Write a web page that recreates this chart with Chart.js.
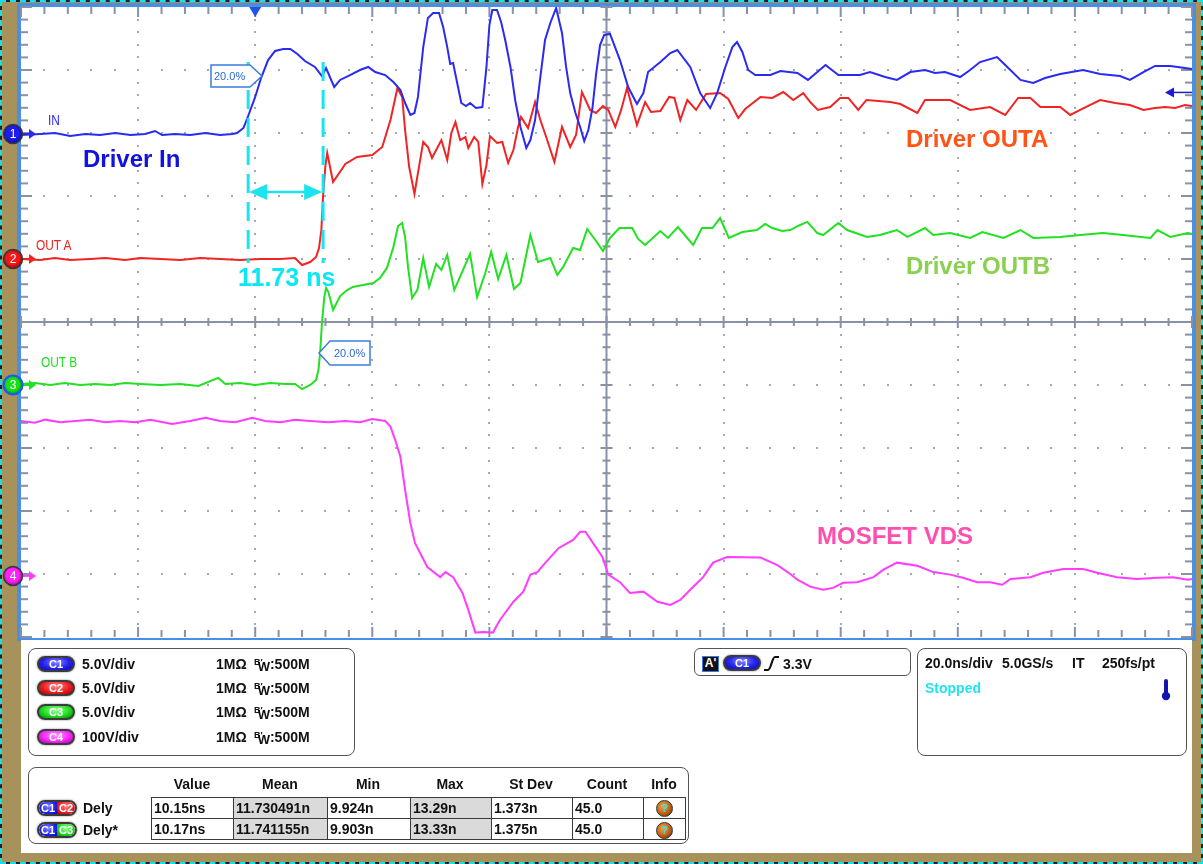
<!DOCTYPE html>
<html><head><meta charset="utf-8">
<script src="https://cdn.jsdelivr.net/npm/chart.js@4.4.1/dist/chart.umd.min.js"></script>
<style>
html,body{margin:0;padding:0;}
body{width:1203px;height:864px;position:relative;overflow:hidden;font-family:"Liberation Sans",Arial,sans-serif;}
#outer{position:absolute;left:0;top:0;width:1203px;height:864px;box-sizing:border-box;border:2px dashed #18dfe8;background:#222;}
#tan{position:absolute;left:2px;top:2px;width:1199px;height:860px;background:#a8925c;}
#plotframe{position:absolute;left:17px;top:3px;width:1179px;height:638px;box-sizing:border-box;border-style:solid;border-color:#4a8fe3;border-width:4px 4px 3px 4px;background:#fff;}
#panel{position:absolute;left:21px;top:640px;width:1171px;height:213px;background:#fff;}
canvas{position:absolute;left:0;top:0;z-index:2;}
.t{position:absolute;white-space:nowrap;line-height:1;z-index:4;}
.b{font-weight:bold;}
.p14{font-size:14px;font-weight:bold;color:#111;}
.box{position:absolute;box-sizing:border-box;border:1.5px solid #555;border-radius:8px;z-index:3;}
.pill{position:absolute;box-sizing:border-box;height:16px;border-radius:8px;border:2px solid #3b3b3b;color:#fff;font:bold 11px/12px "Liberation Sans",Arial,sans-serif;text-align:center;z-index:4;box-shadow:0 0 2px #777;}
.pb{background:radial-gradient(ellipse 70% 90% at 50% 35%,#8a8aff 0%,#2424f0 55%,#0a0aa8 100%);}
.pr{background:radial-gradient(ellipse 70% 90% at 50% 35%,#ff9090 0%,#f02020 55%,#a00000 100%);}
.pg{background:radial-gradient(ellipse 70% 90% at 50% 35%,#a0ffa0 0%,#20e020 55%,#008a00 100%);}
.pm{background:radial-gradient(ellipse 70% 90% at 50% 35%,#ff9cff 0%,#ff28ff 55%,#a000a0 100%);}
.half{display:inline-block;width:50%;height:100%;}
.info{position:absolute;box-sizing:border-box;width:17px;height:17px;border-radius:50%;background:radial-gradient(circle at 40% 35%,#f5a548,#b85a10 60%,#5a2800);border:1px solid #333;color:#38e8f2;font:bold 11px/15px "Liberation Sans",Arial,sans-serif;text-align:center;z-index:5;}
.mk{position:absolute;left:7px;width:12px;text-align:center;color:#fff;font:12px/14px "Liberation Sans",Arial,sans-serif;z-index:5;}
table.meas{position:absolute;left:151px;top:797px;width:534px;border-collapse:collapse;table-layout:fixed;z-index:4;}
table.meas td{border:1.5px solid #3a3a3a;height:20px;padding:0 0 0 2px;font:bold 14px/20px "Liberation Sans",Arial,sans-serif;color:#111;white-space:nowrap;overflow:hidden;}
table.meas td.g{background:#dadada;}
.hd{position:absolute;top:777px;width:90px;text-align:center;font-size:14px;font-weight:bold;color:#111;line-height:1;z-index:4;}
.narrow{transform:scaleX(.85);transform-origin:left top;font-size:14px;}
</style></head>
<body>
<div id="outer"></div>
<div id="tan"></div>
<div id="plotframe"></div>
<div id="panel"></div>
<canvas id="scope" width="1203" height="864"></canvas>

<!-- waveform labels -->
<div class="t narrow" style="left:48px;top:113px;color:#2b2bee;">IN</div>
<div class="t narrow" style="left:36px;top:238px;color:#ee2222;">OUT A</div>
<div class="t narrow" style="left:41px;top:355px;color:#22dd22;">OUT B</div>
<div class="t b" style="left:83px;top:147px;font-size:24px;color:#1212dd;">Driver In</div>
<div class="t b" style="left:906px;top:127px;font-size:24px;color:#ff5418;">Driver OUTA</div>
<div class="t b" style="left:906px;top:254px;font-size:24px;color:#8bd050;">Driver OUTB</div>
<div class="t b" style="left:817px;top:524px;font-size:24px;color:#ff4fae;">MOSFET VDS</div>
<div class="t b" id="cursorText" style="left:238px;top:265px;font-size:25px;color:#0ae8f4;"></div>
<div class="t" style="left:214px;top:71px;font-size:11px;color:#2a68d8;">20.0%</div>
<div class="t" style="left:334px;top:348px;font-size:11px;color:#2a68d8;">20.0%</div>

<!-- channel setup box -->
<div class="box" style="left:28px;top:648px;width:327px;height:108px;"></div>
<div class="pill pb" style="left:37px;top:656px;width:38px;">C1</div>
<div class="pill pr" style="left:37px;top:680px;width:38px;">C2</div>
<div class="pill pg" style="left:37px;top:704px;width:38px;">C3</div>
<div class="pill pm" style="left:37px;top:729px;width:38px;">C4</div>
<div class="t p14" style="left:82px;top:657px;">5.0V/div</div>
<div class="t p14" style="left:82px;top:681px;">5.0V/div</div>
<div class="t p14" style="left:82px;top:705px;">5.0V/div</div>
<div class="t p14" style="left:82px;top:730px;">100V/div</div>
<div class="t p14" style="left:216px;top:657px;">1MΩ</div>
<div class="t p14" style="left:216px;top:681px;">1MΩ</div>
<div class="t p14" style="left:216px;top:705px;">1MΩ</div>
<div class="t p14" style="left:216px;top:730px;">1MΩ</div>
<div class="t p14" style="left:254px;top:657px;"><span style="font-size:9px;position:relative;top:-4px;">B′</span><span style="font-size:13px;position:relative;top:2px;margin-left:-5px;">W</span>:500M</div>
<div class="t p14" style="left:254px;top:681px;"><span style="font-size:9px;position:relative;top:-4px;">B′</span><span style="font-size:13px;position:relative;top:2px;margin-left:-5px;">W</span>:500M</div>
<div class="t p14" style="left:254px;top:705px;"><span style="font-size:9px;position:relative;top:-4px;">B′</span><span style="font-size:13px;position:relative;top:2px;margin-left:-5px;">W</span>:500M</div>
<div class="t p14" style="left:254px;top:730px;"><span style="font-size:9px;position:relative;top:-4px;">B′</span><span style="font-size:13px;position:relative;top:2px;margin-left:-5px;">W</span>:500M</div>

<!-- trigger box -->
<div class="box" style="left:694px;top:648px;width:217px;height:28px;border-radius:6px;"></div>
<div class="t" style="left:702px;top:656px;width:17px;height:16px;box-sizing:border-box;background:#111;border:1.5px solid #3a7be0;color:#fff;font:bold 12px/13px 'Liberation Sans',Arial,sans-serif;text-align:center;">A'</div>
<div class="pill pb" style="left:723px;top:655px;width:38px;">C1</div>
<svg style="position:absolute;left:762px;top:654px;z-index:4" width="20" height="20"><path d="M2,16 L6,16 C9,16 10,3 13,3 L17,3" fill="none" stroke="#111" stroke-width="2.2"/></svg>
<div class="t p14" style="left:783px;top:657px;">3.3V</div>

<!-- timebase box -->
<div class="box" style="left:917px;top:648px;width:270px;height:108px;"></div>
<div class="t p14" style="left:925px;top:656px;">20.0ns/div</div>
<div class="t p14" style="left:1002px;top:656px;">5.0GS/s</div>
<div class="t p14" style="left:1072px;top:656px;">IT</div>
<div class="t p14" style="left:1102px;top:656px;">250fs/pt</div>
<div class="t b" style="left:925px;top:681px;font-size:14px;color:#22e3f2;">Stopped</div>
<svg style="position:absolute;left:1159px;top:678px;z-index:4" width="14" height="24"><rect x="5" y="1" width="4" height="16" rx="2" fill="#1414b0"/><circle cx="7" cy="18" r="4.2" fill="#1414b0"/></svg>

<!-- measurement table -->
<div class="box" style="left:28px;top:767px;width:661px;height:77px;"></div>
<div class="hd" style="left:147px;">Value</div>
<div class="hd" style="left:235px;">Mean</div>
<div class="hd" style="left:323px;">Min</div>
<div class="hd" style="left:405px;">Max</div>
<div class="hd" style="left:486px;">St Dev</div>
<div class="hd" style="left:562px;">Count</div>
<div class="hd" style="left:619px;">Info</div>
<div class="pill" style="left:37px;top:800px;width:40px;padding:0;overflow:hidden;"><span class="half pb" style="border-radius:7px 0 0 7px;">C1</span><span class="half pr" style="border-radius:0 7px 7px 0;">C2</span></div>
<div class="pill" style="left:37px;top:822px;width:40px;padding:0;overflow:hidden;"><span class="half pb" style="border-radius:7px 0 0 7px;">C1</span><span class="half pg" style="border-radius:0 7px 7px 0;">C3</span></div>
<div class="t p14" style="left:83px;top:801px;">Dely</div>
<div class="t p14" style="left:83px;top:823px;">Dely*</div>
<table class="meas">
<colgroup><col style="width:82px"><col style="width:94px"><col style="width:83px"><col style="width:81px"><col style="width:81px"><col style="width:71px"><col style="width:42px"></colgroup>
<tr><td>10.15ns</td><td class="g">11.730491n</td><td>9.924n</td><td class="g">13.29n</td><td>1.373n</td><td>45.0</td><td></td></tr>
<tr><td>10.17ns</td><td class="g">11.741155n</td><td>9.903n</td><td class="g">13.33n</td><td>1.375n</td><td>45.0</td><td></td></tr>
</table>
<div class="info" style="left:656px;top:800px;">?</div>
<div class="info" style="left:656px;top:822px;">?</div>

<script>
// ---------------- data (time in ns, voltages in V) ----------------
const timeRange = [-40, 160];          // 20 ns/div, 10 divisions
const cursorTimes = [-1.2, 11.6];      // delay cursors
const cursorLabel = '11.73 ns';
const triggerTime = 0;
const triggerLevel = 3.3;              // V on C1
const channelNames = ['C1', 'C2', 'C3', 'C4'];
const channelColors = ['#2a2af0', '#f02424', '#22e022', '#ff3cff'];

const ch1Time = [
 -40,-36.7,-34.2,-31.6,-29,-26.5,-23.9,-21.3,-18.8,-17.1,
 -15.9,-13.7,-11.1,-8.5,-6,-3.9,-3.1,-2,-1.2,0,
 1,2.2,3.4,4.8,6,7.2,8.5,10.2,11.4,12.1,
 13.5,14.5,16.2,17.9,19.3,20.5,22.2,23.6,24.8,25.6,
 26.5,27.2,27.8,28.7,29.5,30.4,31.4,32.1,32.8,33.3,
 33.8,34.5,35.2,36,36.7,37.7,38.8,39.5,40,40.5,
 41.3,42,42.7,43.6,44.4,45.3,46.3,47,47.8,48.7,
 49.5,50.4,51.4,52.4,53.1,53.8,54.7,55.5,56.2,56.9,
 57.6,58.2,58.9,59.6,60.6,62.3,63.7,65.2,66.3,67.1,
 69.2,70.9,72.1,74.3,76,77.7,78.9,80.3,81.5,82.3,
 83.2,84.2,85.4,88,89.7,92.6,94.4,97.4,99.6,103.3,
 105,107.6,109.6,111.9,114.4,116.1,117.8,120.4,122.1,123.8,
 126.7,128.1,130.7,132.9,134.9,137.5,141.4,144.3,147.7,149.4,
 151.7,153.7,156.3,158.8,160
];
const ch1Volts = [
 -0.08,0,0.08,-0.16,0,-0.08,0.08,-0.08,0,0.24,
 -0.08,0,-0.08,0.08,-0.08,0,0.08,0.48,1.43,2.94,
 4.44,5.87,6.59,6.75,6.75,6.35,5.79,5.32,4.60,5.24,
 3.73,4.29,4.68,5.08,5.32,4.92,4.68,4.13,3.49,2.46,
 1.51,1.67,2.94,6.90,9.21,9.60,9.60,8.49,6.90,5.56,
 5.63,4.05,2.46,2.22,2.46,2.06,2.14,5.32,8.65,9.84,
 9.84,8.89,7.46,5.32,2.70,0.56,-1.11,-0.48,1.11,4.52,
 7.46,8.81,10.0,8.02,5.32,3.25,1.67,0.56,-0.56,0.32,
 2.06,4.68,7.06,7.86,7.94,5.87,3.73,2.38,3.25,4.92,
 5.71,6.43,6.67,5.32,3.25,2.06,3.25,5.32,6.90,7.30,
 6.51,5.08,4.68,4.68,5.0,4.84,4.29,5.48,4.68,4.68,
 4.92,4.52,4.29,4.92,5.08,4.84,4.92,4.52,5.08,5.71,
 6.11,5.48,4.29,4.05,4.44,4.76,5.08,4.76,4.60,4.29,
 4.92,5.40,5.40,5.24,5.16
];

const ch2Time = [
 -40,-36.7,-34.2,-31.6,-28.2,-25.6,-22.2,-19.6,-16.2,-12.8,
 -9.4,-6,-2.6,0.9,4.3,6.8,8,9.4,10.4,10.9,
 11.3,11.6,12,12.3,13.3,15.4,17.4,20,21.7,23.1,
 24.3,25.1,25.6,26.3,27.2,27.8,28.7,29.5,30.2,31.8,
 32.8,33.5,34.2,35,35.9,36.4,37.4,38.1,38.8,39.5,
 40.1,41.3,42.2,43.2,44.1,44.9,45.4,46.6,47.8,48.7,
 49.7,51.1,52.4,53.8,54.8,55.8,57.2,58.2,59.4,60.3,
 61.5,62.5,63.5,65.2,66.6,67.6,69.2,70.7,71.6,72.6,
 73.8,75.3,77,79.4,80.8,82.5,83.7,86.3,88.3,90.2,
 91.9,93.6,94.8,96.1,98.2,99.9,101.3,103,104.4,108.5,
 110.2,113.1,114.4,118.7,122.1,125.5,128.1,130.3,132.4,134.1,
 137.5,139.2,140.9,144.3,146.9,149.4,151.7,153.7,155.4,157.1,
 158.8,160
];
const ch2Volts = [
 0,-0.08,0.08,-0.08,0,0.08,-0.08,0.08,0,-0.08,
 0.08,0,-0.08,0,0,0.08,-0.48,-0.24,0.16,0.87,
 2.30,5.08,7.46,8.41,6.11,7.54,8.10,8.25,8.89,11.03,
 13.57,12.86,10.24,7.30,5.16,6.83,9.29,8.89,8.02,9.44,
 7.86,10.0,10.87,9.44,9.68,8.81,9.68,9.29,5.95,7.46,
 9.76,9.21,9.29,7.62,8.65,10.48,11.27,10.40,12.46,11.03,
 9.68,7.70,10.48,8.89,9.84,13.25,11.83,11.59,12.14,11.83,
 10.48,11.83,13.57,10.63,12.46,11.67,11.75,12.86,12.78,11.03,
 12.62,11.83,13.10,13.17,12.70,11.19,11.90,12.86,12.78,13.25,
 12.62,13.17,12.46,11.83,12.06,12.78,12.78,11.83,12.62,12.46,
 12.30,11.59,12.62,12.62,11.83,12.06,11.43,12.78,12.78,12.06,
 12.06,11.43,11.83,12.62,12.38,12.22,11.83,11.98,12.06,11.98,
 12.22,12.14
];

const ch3Time = [
 -40,-37.6,-35,-32.5,-29.9,-27.3,-24.8,-22.2,-19.6,-16.2,
 -12.8,-9.7,-6.3,-5.1,-2.6,0,2.6,5.1,6.8,8,
 9.4,10.4,10.8,11.1,11.4,11.8,12.1,12.5,13.3,14.5,
 15.7,16.7,18.4,20.2,21.3,22.5,23.6,24.4,25.1,25.6,
 26.1,26.8,27.7,28.7,29.7,30.9,31.8,32.8,34,36.7,
 37.9,39.3,40.3,41.5,42.9,44.2,45.3,47,48.3,50.4,
 51.6,52.6,54.3,55.5,56.7,58.1,59.4,60.6,62.2,64.4,
 65.4,66.6,69.2,70.5,72.2,74.8,76.3,78.1,79.4,80.9,
 83.2,85.7,87.1,88.3,90,91.4,92.7,94.3,96,97,
 99.6,101.1,104.5,106.7,109.6,111.4,114.4,115.8,118.7,122.1,
 124.2,127.8,130.7,132.9,137.5,140.9,144.8,148.2,152.9,154.1,
 156.3,159.3,160
];
const ch3Volts = [
 0.08,0.16,0,0.16,0,0.08,0,0.16,0.08,0,
 0.08,-0.08,0.56,0.08,0.16,0,0.16,0.08,0.08,-0.32,
 0,0.40,1.19,2.62,4.92,6.98,7.70,7.38,5.95,7.06,
 7.54,7.78,7.94,8.10,8.49,9.29,10.95,12.62,12.86,11.75,
 9.37,6.90,7.54,10.08,7.78,9.60,9.13,10.32,7.54,10.40,
 6.98,8.89,10.56,8.41,10.32,7.62,8.10,11.90,9.76,10.08,
 8.73,9.37,10.87,10.71,12.38,11.51,10.63,11.67,12.46,12.46,
 11.59,11.11,12.22,11.67,12.54,11.11,12.46,12.46,13.25,11.67,
 12.14,12.30,12.78,12.46,12.22,12.30,12.62,12.94,12.06,11.90,
 12.86,12.30,11.75,11.90,12.30,11.75,12.46,11.90,12.06,11.67,
 12.14,11.67,12.30,11.67,11.75,11.90,12.06,11.90,11.67,12.30,
 11.75,12.06,11.98
];

const ch4Time = [
 -40,-37.6,-35.9,-33.3,-30.7,-28.2,-25.6,-23.1,-20.5,-17.9,
 -14.2,-11.1,-8.5,-6,-3.4,-0.5,1.7,4.3,6.8,9.4,
 12.5,15.4,17.9,20,22.2,23.1,23.9,24.8,25.6,26.5,
 27.3,29.4,31.6,32.5,33.8,35.4,36.4,37.6,38.9,40.6,
 41.8,44.1,45.8,47,48.2,49.2,51.8,54.3,55.5,56.4,
 57.7,59.3,60.3,62.3,64,66.3,68.7,70.9,72.6,74.3,
 76.5,78.2,80.6,86.3,89.2,91.4,92.6,94.8,97,98.7,
 100.4,102.8,105.6,107.3,109.6,113.1,115.8,118.7,120.9,123.3,
 125.5,127.6,129,132.4,134.6,138,141.4,143.8,147.2,150.6,
 154.1,156.8,159.3,160
];
const ch4Volts = [
 246,243,248,244,246,248,244,246,244,248,
 241,246,251,246,244,251,246,244,248,246,
 244,246,244,249,246,237,216,189,137,84,
 52,14,-2,6,-2,-27,-54,-90,-89,-90,
 -70,-41,-25,2,6,17,44,57,70,70,
 52,30,2,-10,-27,-25,-41,-46,-38,-22,
 -2,21,30,29,17,3,-6,-17,-22,-19,
 -11,-10,-2,10,21,16,6,2,-3,-10,
 -10,-14,-5,-2,5,11,11,5,-2,-5,
 -3,-2,-6,-5
];

// vertical settings: volts/div and ground position (divisions from top of screen)
const voltsPerDiv = [5, 5, 5, 100];
const groundDiv = [2.016, 4.0, 6.0, 9.03];

// ---------------- chart ----------------
function series(t, v) { return t.map((x, i) => ({ x: x, y: v[i] })); }
const times = [ch1Time, ch2Time, ch3Time, ch4Time];
const volts = [ch1Volts, ch2Volts, ch3Volts, ch4Volts];

const yScales = {};
channelNames.forEach((n, i) => {
  yScales['y' + (i + 1)] = {
    type: 'linear', display: false,
    max: groundDiv[i] * voltsPerDiv[i],
    min: -(10 - groundDiv[i]) * voltsPerDiv[i]
  };
});

function tri(ctx, a, b, c) {
  ctx.beginPath(); ctx.moveTo(a[0], a[1]); ctx.lineTo(b[0], b[1]); ctx.lineTo(c[0], c[1]); ctx.closePath(); ctx.fill();
}
function seg(ctx, x1, y1, x2, y2) { ctx.beginPath(); ctx.moveTo(x1, y1); ctx.lineTo(x2, y2); ctx.stroke(); }

const scopeGrid = {
  id: 'scopeGrid',
  beforeDatasetsDraw(chart) {
    const { ctx, chartArea: a } = chart;
    const n = 10, sub = 5;
    const dx = (a.right - a.left) / n, dy = (a.bottom - a.top) / n;
    const cx = a.left + dx * 5, cy = a.top + dy * 5;
    ctx.save();
    ctx.fillStyle = '#a2a9b9';
    for (let i = 1; i < n; i++) {
      if (i === 5) continue;
      const gx = a.left + i * dx;
      for (let j = 1; j < n * sub; j++) { const gy = a.top + j * dy / sub; ctx.fillRect(Math.round(gx) - 1, Math.round(gy) - 1, 2, 2); }
    }
    for (let j = 1; j < n; j++) {
      if (j === 5) continue;
      const gy = a.top + j * dy;
      for (let i = 1; i < n * sub; i++) { const gx = a.left + i * dx / sub; ctx.fillRect(Math.round(gx) - 1, Math.round(gy) - 1, 2, 2); }
    }
    ctx.strokeStyle = '#8891a6'; ctx.lineWidth = 2;
    seg(ctx, cx, a.top, cx, a.bottom); seg(ctx, a.left, cy, a.right, cy);
    for (let j = 0; j <= n * sub; j++) {
      const gy = a.top + j * dy / sub, major = j % sub === 0, L = major ? 6 : 4;
      seg(ctx, cx - L, gy, cx + L, gy);
      const E = major ? 11 : 7;
      seg(ctx, a.left, gy, a.left + E, gy);
      seg(ctx, a.right - E, gy, a.right, gy);
    }
    for (let i = 0; i <= n * sub; i++) {
      const gx = a.left + i * dx / sub, major = i % sub === 0, L = major ? 6 : 4;
      seg(ctx, gx, cy - L, gx, cy + L);
      const E = major ? 10 : 7;
      seg(ctx, gx, a.top, gx, a.top + E);
      seg(ctx, gx, a.bottom - E, gx, a.bottom);
    }
    ctx.restore();
  }
};

const scopeOverlay = {
  id: 'scopeOverlay',
  afterDatasetsDraw(chart) {
    const { ctx, chartArea: a, scales } = chart;
    const x = scales.x;
    ctx.save();
    // delay cursors
    const cxs = cursorTimes.map(t => x.getPixelForValue(t));
    ctx.strokeStyle = '#19e4ef'; ctx.fillStyle = '#19e4ef';
    ctx.lineWidth = 3; ctx.setLineDash([19, 9]);
    cxs.forEach(px => seg(ctx, px, a.top + 55, px, a.top + 256));
    ctx.setLineDash([]);
    const ay = a.top + 185;
    ctx.lineWidth = 2.5;
    seg(ctx, cxs[0] + 12, ay, cxs[1] - 12, ay);
    tri(ctx, [cxs[0] + 1, ay], [cxs[0] + 19, ay - 8], [cxs[0] + 19, ay + 8]);
    tri(ctx, [cxs[1] - 1, ay], [cxs[1] - 19, ay - 8], [cxs[1] - 19, ay + 8]);
    // 20% callouts
    ctx.strokeStyle = '#3a7de0'; ctx.fillStyle = '#fff'; ctx.lineWidth = 1.5;
    ctx.beginPath();
    ctx.moveTo(211, 65); ctx.lineTo(250, 65); ctx.lineTo(262, 76); ctx.lineTo(250, 87); ctx.lineTo(211, 87); ctx.closePath();
    ctx.fill(); ctx.stroke();
    ctx.beginPath();
    ctx.moveTo(370, 341); ctx.lineTo(330, 341); ctx.lineTo(319, 353); ctx.lineTo(330, 365); ctx.lineTo(370, 365); ctx.closePath();
    ctx.fill(); ctx.stroke();
    // trigger position marker
    const tx = x.getPixelForValue(triggerTime);
    ctx.fillStyle = '#2356e0';
    tri(ctx, [tx - 6, a.top], [tx + 6, a.top], [tx, a.top + 10]);
    ctx.restore();
  },
  afterDraw(chart) {
    const { ctx, chartArea: a, scales } = chart;
    ctx.save();
    // trigger level arrow (C1)
    const ly = scales.y1.getPixelForValue(triggerLevel);
    ctx.strokeStyle = '#1a1ad8'; ctx.fillStyle = '#1a1ad8'; ctx.lineWidth = 1.5;
    seg(ctx, a.right - 20, ly, a.right, ly);
    tri(ctx, [a.right - 27, ly], [a.right - 18, ly - 5], [a.right - 18, ly + 5]);
    // channel ground markers
    const dark = ['#0a0a90', '#9a0000', '#008a00', '#a000a0'];
    const fills = ['#1c1cf0', '#f01818', '#18e018', '#ff20ff'];
    channelNames.forEach((nm, i) => {
      const gy = scales['y' + (i + 1)].getPixelForValue(0);
      const col = channelColors[i];
      ctx.strokeStyle = col; ctx.fillStyle = col; ctx.lineWidth = 2;
      seg(ctx, 22, gy, 31, gy);
      tri(ctx, [29, gy - 5], [36, gy], [29, gy + 5]);
      const g = ctx.createRadialGradient(12, gy - 2, 1, 13, gy, 10);
      g.addColorStop(0, fills[i]); g.addColorStop(0.6, fills[i]); g.addColorStop(1, dark[i]);
      ctx.fillStyle = g;
      ctx.beginPath(); ctx.arc(13, gy, 9.5, 0, Math.PI * 2); ctx.fill();
      ctx.strokeStyle = i === 2 ? '#1a5aff' : '#3a3a3a'; ctx.lineWidth = i === 2 ? 2.2 : 1.5;
      ctx.stroke();
    });
    ctx.restore();
  }
};

const chart = new Chart(document.getElementById('scope'), {
  type: 'line',
  data: {
    datasets: channelNames.map((n, i) => ({
      label: n,
      data: series(times[i], volts[i]),
      yAxisID: 'y' + (i + 1),
      borderColor: channelColors[i],
      borderWidth: 2,
      pointRadius: 0,
      tension: 0,
      fill: false
    }))
  },
  options: {
    responsive: false,
    animation: false,
    events: [],
    layout: { padding: { left: 21, right: 11, top: 7, bottom: 227 } },
    plugins: { legend: { display: false }, tooltip: { enabled: false } },
    scales: Object.assign({
      x: { type: 'linear', display: false, min: timeRange[0], max: timeRange[1] }
    }, yScales)
  },
  plugins: [scopeGrid, scopeOverlay]
});

document.getElementById('cursorText').textContent = cursorLabel;
channelNames.forEach((n, i) => {
  const gy = chart.scales['y' + (i + 1)].getPixelForValue(0);
  const d = document.createElement('div');
  d.className = 'mk';
  d.textContent = String(i + 1);
  d.style.top = (gy - 7) + 'px';
  document.body.appendChild(d);
});
</script>
</body></html>
